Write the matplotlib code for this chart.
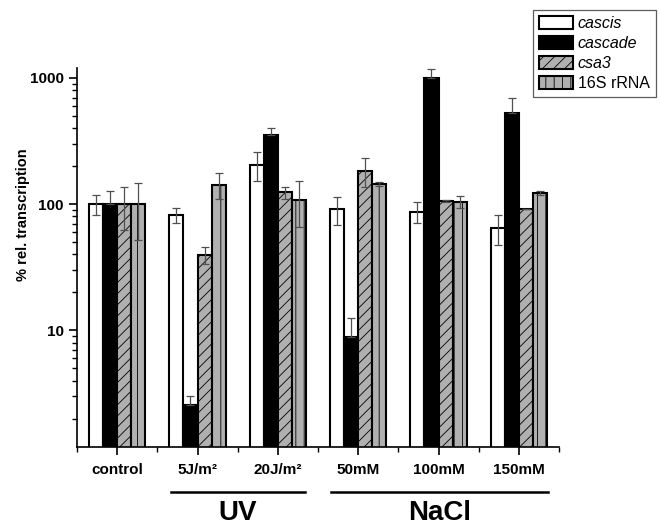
import matplotlib
matplotlib.use("Agg")
import matplotlib.pyplot as plt
import numpy as np
from matplotlib.ticker import LogLocator, NullFormatter, FixedLocator, FixedFormatter

plt.rcParams['font.family'] = ['Liberation Sans', 'DejaVu Sans']
plt.rcParams['hatch.linewidth'] = 0.6

categories = ['control', '5J/m²', '20J/m²', '50mM', '100mM', '150mM']
series = ['cascis', 'cascade', 'csa3', '16S rRNA']
cascis = [100, 82, 205, 92, 87.5, 65]
cascis_err = [18, 11, 52, 23, 16.5, 17.5]
cascade = [100, 2.58, 353, 8.8, 997, 524]
cascade_err = [27, 0.45, 48, 3.8, 180, 175]
csa3 = [100, 39.7, 124, 185, 106, 92]
csa3_err = [38, 5.8, 13, 47, 2, 0.5]
rrna = [100, 143, 109, 144, 105, 123]
rrna_err = [48, 33, 43, 5, 11, 4]

fig = plt.figure(figsize=(6.6, 5.25), dpi=100)
ax = fig.add_axes([77/660, 1-446.7/525, (559-77)/660, (446.7-68)/525])

x = np.arange(len(categories))
w = 0.176
styles = [
    dict(color='white', hatch=None),
    dict(color='black', hatch=None),
    dict(color='#b0b0b0', hatch='///'),
    dict(color='#b0b0b0', hatch='||'),
]
vals = [cascis, cascade, csa3, rrna]
errs = [cascis_err, cascade_err, csa3_err, rrna_err]
handles = []
for i, (v, e, st) in enumerate(zip(vals, errs, styles)):
    pos = x + (i - 1.5) * w
    b = ax.bar(pos, v, width=w, color=st['color'], edgecolor='black',
               linewidth=1.5, hatch=st['hatch'], zorder=2, label=series[i])
    handles.append(b)
    e = np.array(e)
    if i == 1:
        yerr = [np.zeros_like(e), e]
    else:
        yerr = [e, e]
    ax.errorbar(pos, v, yerr=yerr, fmt='none', ecolor='#505050',
                elinewidth=0.9, capsize=3, capthick=0.9, zorder=3)

ax.set_yscale('log')
ax.set_ylim(1.2, 1200)
ax.set_xlim(-0.5, 5.5)
ax.yaxis.set_major_locator(FixedLocator([10, 100, 1000]))
ax.yaxis.set_major_formatter(FixedFormatter(['10', '100', '1000']))
ax.yaxis.set_minor_locator(LogLocator(base=10, subs=np.arange(2, 10)))
ax.yaxis.set_minor_formatter(NullFormatter())
ax.set_xticks(x)
ax.set_xticklabels(categories, fontweight='bold', fontsize=11)
ax.set_xticks(np.arange(-0.5, 6.0, 1.0), minor=True)
ax.tick_params(axis='both', which='major', direction='out', length=6, width=1.2)
ax.tick_params(axis='both', which='minor', direction='out', length=3.5, width=1.0)
ax.tick_params(axis='x', which='major', pad=6)
for lab in ax.get_yticklabels():
    lab.set_fontweight('bold')
    lab.set_fontsize(11)
ax.spines['top'].set_visible(False)
ax.spines['right'].set_visible(False)
ax.spines['left'].set_linewidth(1.2)
ax.spines['bottom'].set_linewidth(1.2)
ax.set_ylabel('% rel. transcription', fontweight='bold', fontsize=10.5)
ax.yaxis.set_label_coords(-0.097, 0.612)

# group lines and labels
groups = [('UV', 0.674, 2.336), ('NaCl', 2.66, 5.36)]
trans = ax.get_xaxis_transform()
for name, x0, x1 in groups:
    ax.plot([x0, x1], [-0.12, -0.12], transform=trans, color='black', lw=1.8, clip_on=False)
    ax.text((x0 + x1) / 2, -0.14, name, transform=trans, ha='center', va='top',
            fontsize=20, fontweight='bold')

leg = fig.legend(handles=handles, labels=series, loc='upper right',
                 bbox_to_anchor=(656/660, 1 - 10/525), fontsize=11.5,
                 frameon=True, fancybox=False, edgecolor='#333333',
                 handlelength=2.1, handleheight=0.85, handletextpad=0.3,
                 labelspacing=0.3, borderpad=0.4, borderaxespad=0)
leg.get_frame().set_linewidth(0.9)
for t, s in zip(leg.get_texts(), series):
    if s != '16S rRNA':
        t.set_fontstyle('italic')

fig.savefig('out.png', dpi=100)
